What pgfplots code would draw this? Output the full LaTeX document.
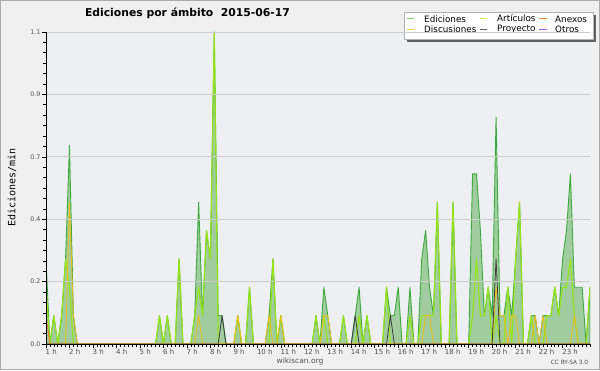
\documentclass[border=0pt]{standalone}
\usepackage{pgfplots}
\usepackage{pgfplotstable}
\pgfplotsset{compat=1.18}
\usepackage{fontspec}
\setmainfont{DejaVu Sans}
\newfontfamily\monofont{DejaVu Sans Mono}
\definecolor{outerbg}{RGB}{240,240,240}
\definecolor{plotbg}{RGB}{237,239,242}
\definecolor{gridc}{RGB}{204,204,204}
\definecolor{edfill}{RGB}{160,204,160}
\definecolor{edline}{RGB}{60,170,60}
\definecolor{artc}{RGB}{150,228,20}
\definecolor{discc}{RGB}{240,190,20}
\definecolor{proyc}{RGB}{60,60,60}
\definecolor{anexc}{RGB}{240,110,50}
\definecolor{legEd}{RGB}{120,210,120}
\definecolor{legArt}{RGB}{200,240,80}
\definecolor{legAnex}{RGB}{240,130,80}
\definecolor{legDisc}{RGB}{250,210,70}
\definecolor{legProy}{RGB}{90,90,90}
\definecolor{legOtros}{RGB}{160,90,240}
\definecolor{ticktext}{RGB}{80,80,80}

\pgfplotstableread{
k ed art disc proy anex
0 0.3 0.2 0 0 0.1
1 0 0 0 0 0
2 0.1 0.1 0 0 0
3 0 0 0 0 0
4 0.1 0.1 0 0 0
5 0.3 0.3 0 0 0
6 0.7 0.2 0.5 0 0
7 0.1 0 0.1 0 0
8 0 0 0 0 0
9 0 0 0 0 0
10 0 0 0 0 0
11 0 0 0 0 0
12 0 0 0 0 0
13 0 0 0 0 0
14 0 0 0 0 0
15 0 0 0 0 0
16 0 0 0 0 0
17 0 0 0 0 0
18 0 0 0 0 0
19 0 0 0 0 0
20 0 0 0 0 0
21 0 0 0 0 0
22 0 0 0 0 0
23 0 0 0 0 0
24 0 0 0 0 0
25 0 0 0 0 0
26 0 0 0 0 0
27 0 0 0 0 0
28 0 0 0 0 0
29 0.1 0.1 0 0 0
30 0 0 0 0 0
31 0.1 0.1 0 0 0
32 0 0 0 0 0
33 0 0 0 0 0
34 0.3 0.3 0 0 0
35 0 0 0 0 0
36 0 0 0 0 0
37 0 0 0 0 0
38 0.1 0.1 0 0 0
39 0.5 0.2 0.1 0 0
40 0.1 0.1 0 0 0
41 0.4 0.4 0 0 0
42 0.3 0.3 0 0 0
43 1.1 1.1 0 0 0
44 0.1 0 0 0 0
45 0.1 0 0 0.1 0
46 0 0 0 0 0
47 0 0 0 0 0
48 0 0 0 0 0
49 0.1 0.1 0.1 0 0
50 0 0 0 0 0
51 0 0 0 0 0
52 0.2 0.2 0 0 0
53 0 0 0 0 0
54 0 0 0 0 0
55 0 0 0 0 0
56 0 0 0 0 0
57 0.1 0 0.1 0 0
58 0.3 0.3 0 0 0
59 0 0 0 0 0
60 0.1 0.1 0.1 0 0
61 0 0 0 0 0
62 0 0 0 0 0
63 0 0 0 0 0
64 0 0 0 0 0
65 0 0 0 0 0
66 0 0 0 0 0
67 0 0 0 0 0
68 0 0 0 0 0
69 0.1 0.1 0 0 0
70 0 0 0 0 0
71 0.2 0.1 0.1 0 0
72 0.1 0 0.1 0 0
73 0 0 0 0 0
74 0 0 0 0 0
75 0 0 0 0 0
76 0.1 0.1 0 0 0
77 0 0 0 0 0
78 0 0 0 0 0
79 0.1 0 0 0.1 0
80 0.2 0.1 0 0 0
81 0 0 0 0 0
82 0.1 0.1 0 0 0
83 0 0 0 0 0
84 0 0 0 0 0
85 0 0 0 0 0
86 0 0 0 0 0
87 0.2 0.2 0 0 0
88 0.1 0 0 0.1 0
89 0.1 0 0 0 0
90 0.2 0 0 0 0
91 0 0 0 0 0
92 0 0 0 0 0
93 0.2 0.1 0 0 0
94 0 0 0 0 0
95 0 0 0 0 0
96 0.3 0.1 0 0 0
97 0.4 0.1 0.1 0 0
98 0.2 0.1 0.1 0 0
99 0.1 0.1 0 0 0
100 0.5 0.5 0 0 0
101 0 0 0 0 0
102 0 0 0 0 0
103 0 0 0 0 0
104 0.5 0.5 0 0 0
105 0 0 0 0 0
106 0 0 0 0 0
107 0 0 0 0 0
108 0 0 0 0 0
109 0.6 0.1 0 0 0
110 0.6 0.3 0 0 0
111 0.4 0.1 0 0 0
112 0.1 0.1 0 0 0
113 0.2 0.2 0 0 0
114 0.1 0 0 0 0
115 0.8 0.1 0.2 0.3 0
116 0.1 0 0.1 0 0
117 0.1 0 0.1 0 0
118 0.2 0.2 0 0 0
119 0.1 0 0.1 0 0
120 0.3 0.3 0.1 0 0
121 0.5 0.5 0 0 0
122 0 0 0 0 0
123 0 0 0 0 0
124 0.1 0.1 0 0 0
125 0.1 0 0.1 0 0
126 0 0 0 0 0
127 0.1 0 0.1 0 0
128 0.1 0.1 0 0 0
129 0.1 0.1 0 0 0
130 0.2 0.2 0 0 0
131 0.1 0.1 0 0 0
132 0.3 0.2 0 0 0
133 0.4 0.2 0 0 0
134 0.6 0.3 0 0 0
135 0.2 0.1 0.1 0 0
136 0.2 0 0 0 0
137 0.2 0 0 0 0
138 0 0 0 0 0
139 0.2 0.2 0 0 0
}\datatable

\begin{document}
\begin{tikzpicture}[x=1pt,y=1pt]
\fill[outerbg] (0,0) rectangle (600,370);
\draw[gray!65, line width=1pt] (0.5,0.5) rectangle (599.5,369.5);
\fill[plotbg] (46,26) rectangle (590,338);
\node[font=\fontsize{10.8}{12}\selectfont\bfseries] at (187.5,357) {Ediciones por ámbito\hspace{0.7em}2015-06-17};
\node[rotate=90, font=\monofont\fontsize{10}{11}\selectfont] at (12,182.5) {Ediciones/min};
\node[font=\fontsize{7.5}{8}\selectfont, text=ticktext] at (300,8.5) {wikiscan.org};
\node[font=\fontsize{5.8}{6}\selectfont, text=ticktext] at (569.5,7.5) {CC BY-SA 3.0};
\begin{axis}[
  at={(46pt,26pt)}, anchor=south west,
  scale only axis, width=544pt, height=312pt,
  xmin=0, xmax=139, ymin=0, ymax=1.1,
  axis lines*=left,
  axis line style={black, line width=0.9pt, -},
  set layers, axis on top,
  clip=true,
  tick align=outside,
  major tick length=4pt, minor tick length=3pt,
  tick style={black, line width=0.6pt},
  xtick={0,6,...,132},
  xticklabels={1 h,2 h,3 h,4 h,5 h,6 h,7 h,8 h,9 h,10 h,11 h,12 h,13 h,14 h,15 h,16 h,17 h,18 h,19 h,20 h,21 h,22 h,23 h},
  minor xtick={0,...,139},
  xticklabel style={anchor=north west, inner sep=1pt, xshift=-1.5pt, font=\fontsize{7}{8}\selectfont, text=ticktext},
  ytick={0,0.22,0.44,0.66,0.88,1.1},
  yticklabels={0.0,0.2,0.4,0.7,0.9,1.1},
  minor y tick num=5,
  yticklabel style={font=\fontsize{6.3}{7}\selectfont, text=ticktext, inner sep=1.5pt},
  ymajorgrids,
  grid style={gridc, line width=0.8pt, /pgfplots/on layer=axis background},
]
\addplot[draw=edline, line width=0.9pt, fill=edfill, line join=round] table[x=k, y=ed]{\datatable} \closedcycle;
\addplot[draw=artc, line width=1.1pt, line join=round] table[x=k, y=art]{\datatable};
\addplot[draw=discc, line width=0.8pt, line join=round] table[x=k, y=disc]{\datatable};
\addplot[draw=proyc, line width=0.8pt, line join=round] table[x=k, y=proy]{\datatable};
\addplot[draw=anexc, line width=0.8pt, line join=round] table[x=k, y=anex]{\datatable};
\end{axis}
% legend box
\fill[gray!75!black] (407,328) rectangle (596,355);
\filldraw[fill=white, draw=gray!60, line width=0.8pt] (404,331) rectangle (593,358);
\begin{scope}[line width=0.9pt]
\draw[legEd]   (407,351.3) -- (414,351.3);
\draw[legArt]  (480,351.3) -- (487,351.3);
\draw[legAnex] (539,351.3) -- (547,351.3);
\draw[legDisc] (407,341) -- (414,341);
\draw[legProy] (480,341) -- (487,341);
\draw[legOtros](539,341) -- (547,341);
\end{scope}
\begin{scope}[every node/.style={anchor=base west, inner sep=0pt, font=\fontsize{8.8}{10}\selectfont}]
\node at (424,347.5) {Ediciones};
\node at (497,348.5) {Artículos};
\node at (555,347.5) {Anexos};
\node at (424,337.5) {Discusiones};
\node at (497,338.5) {Proyecto};
\node at (555,337.5) {Otros};
\end{scope}
\pgfresetboundingbox
\useasboundingbox (0,0) rectangle (600,370);
\end{tikzpicture}
\end{document}
